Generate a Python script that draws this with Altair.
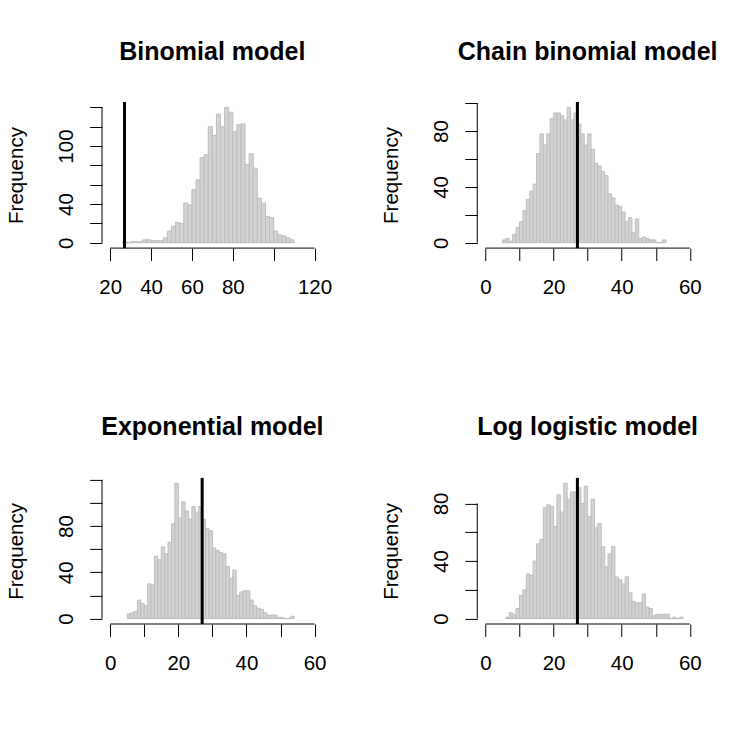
import altair as alt
import pandas as pd

# Observed value marked on every histogram
observed = 27

# Binomial model: bins of width 2 starting at 26
binom_start = 26
binom_width = 2
binom_counts = [1, 0, 1, 1, 1, 3, 3, 2, 2, 2, 5, 12, 17, 21, 20, 41, 39, 55, 65, 88,
                91, 120, 111, 133, 120, 140, 135, 115, 122, 123, 81, 92, 77, 46, 41,
                27, 26, 12, 8, 7, 5, 3]

# Chain binomial model: bins of width 1 starting at 5
chain_start = 5
chain_width = 1
chain_counts = [2, 3, 1, 6, 11, 15, 23, 31, 37, 42, 64, 78, 70, 78, 89, 93, 93, 91,
                88, 97, 88, 93, 85, 78, 70, 78, 67, 57, 55, 51, 48, 35, 32, 27, 26,
                22, 15, 18, 7, 17, 3, 4, 3, 2, 2, 0, 0, 2]

# Exponential model: bins of width 1 starting at 5
expo_start = 5
expo_width = 1
expo_counts = [4, 5, 6, 16, 13, 11, 30, 29, 54, 51, 62, 56, 66, 82, 117, 87, 101, 93,
               86, 97, 92, 97, 86, 78, 76, 61, 59, 57, 56, 45, 35, 42, 20, 23, 24, 24,
               16, 11, 9, 8, 5, 3, 3, 3, 1, 1, 0, 0, 2]

# Log logistic model: bins of width 1 starting at 6
loglog_start = 6
loglog_width = 1
loglog_counts = [1, 4, 3, 7, 16, 20, 31, 30, 40, 52, 55, 77, 79, 78, 64, 86, 74, 94,
                 83, 88, 88, 91, 80, 92, 71, 83, 63, 66, 50, 36, 45, 50, 29, 27, 24,
                 29, 18, 12, 11, 11, 17, 8, 7, 2, 3, 3, 3, 3, 0, 1, 0, 1]

titles = ["Binomial model", "Chain binomial model", "Exponential model", "Log logistic model"]

# x limits, tick positions and the tick labels that are printed
xlims = [[20, 120], [0, 60], [0, 60], [0, 60]]
xticks = [[20, 40, 60, 80, 100, 120], [0, 10, 20, 30, 40, 50, 60],
          [0, 10, 20, 30, 40, 50, 60], [0, 10, 20, 30, 40, 50, 60]]
xlabels = [[20, 40, 60, 80, 120], [0, 20, 40, 60], [0, 20, 40, 60], [0, 20, 40, 60]]

# y tick positions and printed labels
yticks = [[0, 20, 40, 60, 80, 100, 120, 140], [0, 20, 40, 60, 80, 100],
          [0, 20, 40, 60, 80, 100, 120], [0, 20, 40, 60, 80]]
ylabels = [[0, 40, 100], [0, 40, 80], [0, 40, 80], [0, 40, 80]]

FONT = "Liberation Sans"
W = 220.75   # plot region width
H = 146.1    # plot region height
TICK = 12.4
FS = 20.5


def label_expr(values):
    return " || ".join(f"datum.value == {v}" for v in values) + " ? datum.label : ''"


def panel(title, start, width, counts, xlim, xt, xl, yt, yl):
    n = len(counts)
    bins = pd.DataFrame({
        "lo": [start + i * width for i in range(n)],
        "hi": [start + (i + 1) * width for i in range(n)],
        "count": counts,
    })
    span = xlim[1] - xlim[0]
    ymax = max(counts)
    xs = alt.Scale(domain=[xlim[0] - 0.04 * span, xlim[1] + 0.04 * span], nice=False, zero=False)
    ys = alt.Scale(domain=[-0.04 * ymax, 1.04 * ymax], nice=False, zero=False)

    xaxis = alt.Axis(values=xt, labelExpr=label_expr(xl), domain=False, grid=False,
                     tickSize=TICK, tickWidth=1, tickColor="black",
                     labelFont=FONT, labelFontSize=FS, labelColor="black",
                     labelAlign="center", labelBaseline="alphabetic",
                     labelPadding=45 - TICK, labelOverlap=False, labelFlush=False,
                     title=None)
    yaxis = alt.Axis(values=yt, labelExpr=label_expr(yl), domain=False, grid=False,
                     tickSize=TICK, tickWidth=1, tickColor="black",
                     labelFont=FONT, labelFontSize=FS, labelColor="black",
                     labelAngle=270, labelAlign="center", labelBaseline="alphabetic",
                     labelPadding=30 - TICK, labelOverlap=False, labelFlush=False,
                     title="Frequency", titleFont=FONT, titleFontSize=FS,
                     titleFontWeight="normal", titleColor="black", titleAngle=270,
                     titleAlign="center", titleBaseline="alphabetic",
                     titleX=-79.6, titleY=H / 2)

    bars = alt.Chart(bins).mark_rect(fill="#d3d3d3", stroke="#bebebe", strokeWidth=1).encode(
        x=alt.X("lo:Q", scale=xs, axis=xaxis),
        x2="hi:Q",
        y=alt.Y("count:Q", scale=ys, axis=yaxis),
        y2=alt.datum(0),
    )

    # axis lines run from the first to the last tick
    xline = alt.Chart(pd.DataFrame({"a": [xt[0]], "b": [xt[-1]]})).mark_rule(
        color="black", strokeWidth=1).encode(
        x=alt.X("a:Q", scale=xs, axis=xaxis), x2="b:Q", y=alt.value(H))
    yline = alt.Chart(pd.DataFrame({"a": [yt[0]], "b": [yt[-1]]})).mark_rule(
        color="black", strokeWidth=1).encode(
        y=alt.Y("a:Q", scale=ys, axis=yaxis), y2="b:Q", x=alt.value(0))

    obs = alt.Chart(pd.DataFrame({"v": [observed]})).mark_rule(
        color="black", strokeWidth=3).encode(
        x=alt.X("v:Q", scale=xs, axis=xaxis), y=alt.value(0), y2=alt.value(H))

    return alt.layer(bars, obs, xline, yline).properties(
        width=W, height=H,
        title=alt.TitleParams(title, font=FONT, fontSize=25, fontWeight="bold",
                              color="black", anchor="middle", frame="group",
                              baseline="alphabetic", offset=16),
    )


data = [
    (binom_start, binom_width, binom_counts),
    (chain_start, chain_width, chain_counts),
    (expo_start, expo_width, expo_counts),
    (loglog_start, loglog_width, loglog_counts),
]

panels = [panel(titles[i], *data[i], xlims[i], xticks[i], xlabels[i], yticks[i], ylabels[i])
          for i in range(4)]

chart = alt.concat(*panels, columns=2, spacing={"row": 228.9, "column": 154.25}).properties(
    bounds="flush",
    padding={"left": 6, "top": 39, "right": 5, "bottom": 5},
    background="white",
).configure_view(stroke=None).configure_axis(grid=False)

chart.save("out.html", embed_options={"renderer": "svg", "actions": False})
